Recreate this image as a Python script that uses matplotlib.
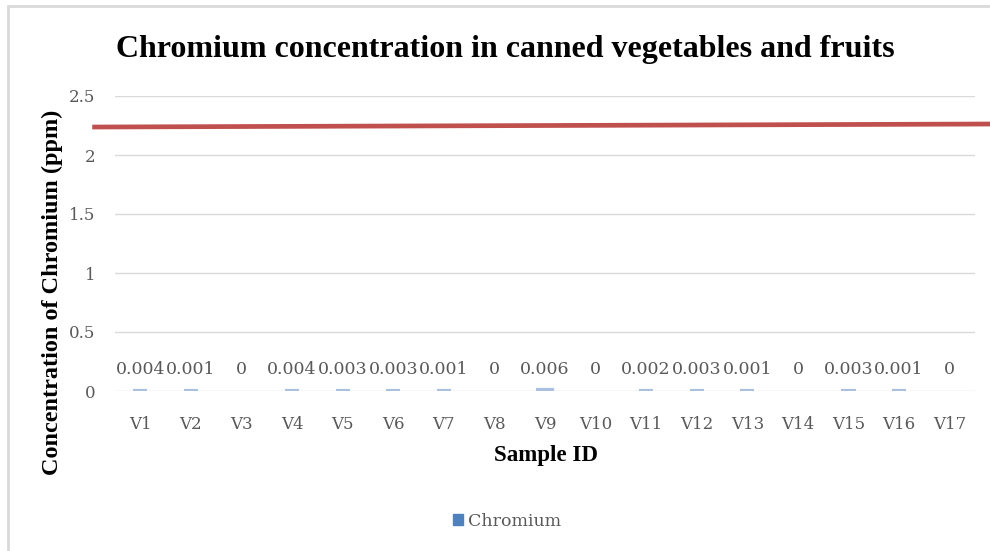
import matplotlib.pyplot as plt
import matplotlib.patches as mpatches
import numpy as np

samples = ['V%d' % i for i in range(1, 18)]
chromium = [0.004, 0.001, 0, 0.004, 0.003, 0.003, 0.001, 0, 0.006, 0,
            0.002, 0.003, 0.001, 0, 0.003, 0.001, 0]
limit_start = 2.237
limit_end = 2.263

grey = '#595959'
serif = 'DejaVu Serif'
times = 'Liberation Serif'

fig = plt.figure(figsize=(9.9, 5.51), dpi=100)
ax = fig.add_axes([115 / 990, 1 - 391 / 551, 860 / 990, 295 / 551])

x = np.arange(len(samples))
# bars are tiny, so give the non-zero ones a light outline to keep them visible
widths = [0 if v == 0 else 3 for v in chromium]
ax.bar(x, chromium, width=0.28, color='#4F81BD', edgecolor='#A9C0DF',
       linewidth=widths, zorder=3)

for xi, v in zip(x, chromium):
    ax.text(xi, v + 0.18, '%g' % v, ha='center', va='center',
            fontsize=12.5, family=serif, color=grey)

# limit line runs past the plot area on both sides
ax.plot([-0.95, 17.1], [limit_start, limit_end], color='#C0504D', lw=3.4,
        solid_capstyle='butt', clip_on=False, zorder=4)

ax.set_xlim(-0.5, 16.5)
ax.set_ylim(0, 2.5)
ax.set_yticks([0, 0.5, 1, 1.5, 2, 2.5])
ax.set_yticklabels(['0', '0.5', '1', '1.5', '2', '2.5'])
ax.set_xticks(x)
ax.set_xticklabels(samples)
ax.grid(axis='y', color='#D9D9D9', lw=1)
ax.set_axisbelow(True)
for s in ax.spines.values():
    s.set_visible(False)
ax.tick_params(length=0, colors=grey, labelsize=12)
ax.tick_params(axis='x', pad=18)
ax.tick_params(axis='y', pad=14)
for lab in ax.get_xticklabels() + ax.get_yticklabels():
    lab.set_family(serif)

fig.text(546 / 990, 1 - 455 / 551, 'Sample ID', ha='center', va='center',
         fontsize=16.5, fontweight='bold', family=times)
fig.text(52 / 990, 1 - 292 / 551, 'Concentration of Chromium (ppm)',
         ha='center', va='center', rotation=90, fontsize=17.5,
         fontweight='bold', family=times)
fig.text(505 / 990, 1 - 50 / 551,
         'Chromium concentration in canned vegetables and fruits',
         ha='center', va='center', fontsize=23, fontweight='bold',
         family=times)

handle = mpatches.Patch(color='#4F81BD', label='Chromium')
leg = fig.legend(handles=[handle], loc='center', ncol=1, frameon=False,
                 bbox_to_anchor=(507 / 990, 1 - 521 / 551),
                 prop={'family': serif, 'size': 12.5},
                 handlelength=0.55, handleheight=0.55, handletextpad=0.3)
for t in leg.get_texts():
    t.set_color(grey)

# outer chart frame
fig.patches.append(mpatches.Rectangle((8 / 990, -0.1), 1.1, 1 - 6 / 551 + 0.1,
                                      transform=fig.transFigure, fill=False,
                                      edgecolor='#D9D9D9', lw=2))

fig.savefig('out.png', dpi=100)
